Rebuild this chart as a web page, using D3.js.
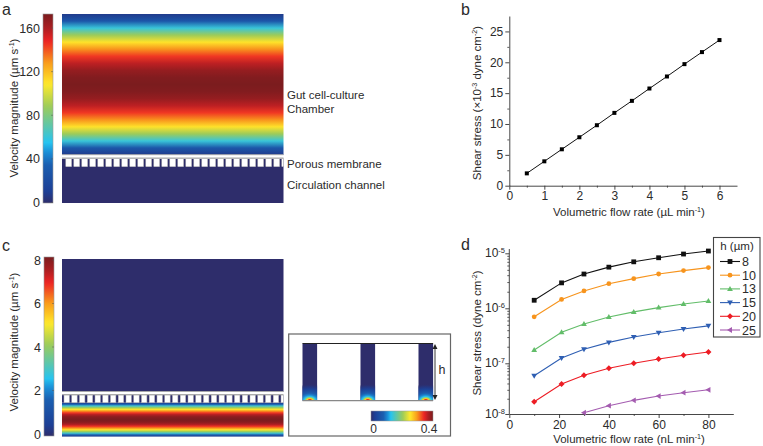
<!DOCTYPE html>
<html><head><meta charset="utf-8">
<script src="https://cdn.jsdelivr.net/npm/d3@7/dist/d3.min.js"></script>
<style>
html,body{margin:0;padding:0;background:#fff}
svg{display:block}
text{font-family:"Liberation Sans",Arial,sans-serif;fill:#2b2b2b}
</style></head><body>
<script>
// ---------- data ----------
const rampStops = [0,.06,.2,.27,.32,.41,.51,.63,.74,.855,.93,1];
const rampColors = ["#2e2d6b","#1d3f95","#1b5eb0","#1b8fd8","#27c4f0","#5fc6a8","#9ccb5a","#ffe92b","#f99d1c","#ee2424","#a81e22","#7b1c1e"];
const profileFrac = [0,.05,.1,.15,.2,.25,.3,.35,.4,.45,.5,.55,.6,.65,.7,.75,.8,.85,.9,.95,1];
const gutProfile = [8,28,60,88,110,129,144,156,165,170,172,170,165,156,144,129,110,88,60,28,8];
const circProfile = [.4,1.5,2.9,4.1,5.1,6,6.7,7.3,7.7,7.9,8,7.9,7.7,7.3,6.7,6,5.1,4.1,2.9,1.5,.4];
const cbarATicks = [0,40,80,120,160];
const cbarCTicks = [0,2,4,6,8];
const insetTicks = [0,0.4];
const flowB = [.5,1,1.5,2,2.5,3,3.5,4,4.5,5,5.5,6];
const shearB = [2,3.95,5.9,7.85,9.8,11.8,13.75,15.75,17.7,19.7,21.65,23.6];
const flowD = [10,21,30,40,50,60,70,80];
const heights = ["8","10","13","15","20","25"];
const s8  = [1.4e-6,2.9e-6,4.2e-6,5.6e-6,7e-6,8.3e-6,9.7e-6,1.1e-5];
const s10 = [7e-7,1.45e-6,2.07e-6,2.8e-6,3.46e-6,4.2e-6,4.85e-6,5.5e-6];
const s13 = [1.75e-7,3.66e-7,5.2e-7,6.95e-7,8.6e-7,1.03e-6,1.2e-6,1.36e-6];
const s15 = [5.7e-8,1.25e-7,1.8e-7,2.4e-7,3e-7,3.6e-7,4.2e-7,4.8e-7];
const s20 = [1.75e-8,3.9e-8,5.8e-8,8e-8,1e-7,1.2e-7,1.4e-7,1.6e-7];
const s25 = [null,null,1.06e-8,1.46e-8,1.86e-8,2.26e-8,2.63e-8,3e-8];
const colorsD = ["#111111","#f7941d","#62bd69","#2f5fb3","#ed1c24","#a45cb0"];
const shapesD = ["square","circle","up","down","diamond","left"];
const insetProfile = [.4,.34,.27,.22,.13,.1,.08,.06,.04,.02,.008,0];
const insetFrac = [0,.07,.12,.16,.24,.34,.44,.52,.62,.74,.86,1];

// ---------- helpers ----------
const ramp = d3.scaleLinear().domain(rampStops).range(rampColors).interpolate(d3.interpolateRgb).clamp(true);
const svg = d3.select("body").append("svg").attr("width",763).attr("height",446);
const defs = svg.append("defs");
const axisCol = "#333";

function grad(id, fracs, vals, vmax, horizontal){
  const g = defs.append("linearGradient").attr("id",id)
    .attr("x1",0).attr("y1",0).attr("x2",horizontal?1:0).attr("y2",horizontal?0:1);
  fracs.forEach((f,i)=>g.append("stop").attr("offset",f).attr("stop-color",ramp(vals[i]/vmax)));
}
const barFrac = d3.range(0,1.0001,.02);
grad("barV",barFrac,barFrac.map(f=>1-f),1,false);
grad("barH",barFrac,barFrac,1,true);
grad("gut",profileFrac,gutProfile,172,false);
grad("circ",profileFrac,circProfile,8,false);

const rg = defs.append("radialGradient").attr("id","glow").attr("cx",.5).attr("cy",1).attr("r",1).attr("fx",.5).attr("fy",1);
insetFrac.forEach((f,i)=>rg.append("stop").attr("offset",f).attr("stop-color",ramp(insetProfile[i]/.4)).attr("stop-opacity",i==insetFrac.length-1?0:1));

function label(x,y,parts,opts={}){
  const t = svg.append("text").attr("text-anchor",opts.anchor||"middle").attr("font-size",opts.size||11.5);
  if(opts.rotate) t.attr("transform",`translate(${x},${y}) rotate(-90)`); else t.attr("x",x).attr("y",y);
  parts.forEach(p=>{
    const s=t.append("tspan").text(p.t);
    if(p.sup) s.attr("font-size",(opts.size||11.5)*.62).attr("dy",-4);
    else if(p.after) s.attr("dy",4);
  });
  return t;
}
function colorbar(x0,x1,y0,y1,yv0,yvTop,vTop,ticks){
  svg.append("rect").attr("x",x0).attr("y",y0).attr("width",x1-x0).attr("height",y1-y0).attr("fill","url(#barV)").attr("stroke","#999").attr("stroke-width",.6);
  const sc = d3.scaleLinear().domain([0,vTop]).range([yv0,yvTop]);
  const g = svg.append("g").attr("transform",`translate(${x0},0)`).call(d3.axisLeft(sc).tickValues(ticks).tickSize(0).tickPadding(3));
  g.select(".domain").remove();
  g.selectAll("text").attr("font-size",12.5).style("font-family","Liberation Sans").style("fill","#2b2b2b");
  svg.append("g").attr("transform",`translate(${x1},0)`).selectAll("line").data(ticks).join("line")
    .attr("x1",-2).attr("x2",0).attr("y1",d=>sc(d)).attr("y2",d=>sc(d)).attr("stroke","#555").attr("stroke-width",.5);
}
function membrane(g,x0,x1,stripTop,poreTop,poreBot,fillGap,first,period,w){
  g.append("rect").attr("x",x0).attr("y",poreTop).attr("width",x1-x0).attr("height",poreBot-poreTop).attr("fill",fillGap);
  const n = Math.floor((x1-x0-first)/period);
  g.selectAll(".sq").data(d3.range(n+1)).join("rect").attr("class","sq")
    .attr("x",d=>x0+first+d*period).attr("y",poreTop).attr("width",d=>Math.max(0,Math.min(w,x1-(x0+first+d*period)))).attr("height",poreBot-poreTop)
    .attr("fill","#fff").attr("stroke","#b5b5b5").attr("stroke-width",.5);
  g.append("rect").attr("x",x0).attr("y",stripTop).attr("width",x1-x0).attr("height",poreTop-stripTop).attr("fill","#fff");
  g.append("line").attr("x1",x0).attr("x2",x1).attr("y1",stripTop).attr("y2",stripTop).attr("stroke","#aaa").attr("stroke-width",.9);
  g.append("line").attr("x1",x0).attr("x2",x1).attr("y1",poreTop-.3).attr("y2",poreTop-.3).attr("stroke","#aaa").attr("stroke-width",1.2);
}
const navy = rampColors[0];

// ---------- panel letters ----------
[["a",2,14.5],["b",461,14.5],["c",2,251],["d",461,250]].forEach(d=>label(d[1],d[2],[{t:d[0]}],{anchor:"start",size:16}));

// ---------- panel a ----------
colorbar(43,53,14,203,202.5,28,160,cbarATicks);
label(18,108,[{t:"Velocity magnitude (µm s"},{t:"-1",sup:1},{t:")",after:1}],{rotate:1});
const ga = svg.append("g");
ga.append("rect").attr("x",62).attr("y",14).attr("width",221.5).attr("height",141).attr("fill","url(#gut)");
ga.append("rect").attr("x",62).attr("y",166).attr("width",221.5).attr("height",37).attr("fill",navy);
membrane(ga,62,283.5,154.7,158.5,166.7,navy,3.8,8,5.8);
label(287,99,[{t:"Gut cell-culture"}],{anchor:"start",size:11.5});
label(287,113,[{t:"Chamber"}],{anchor:"start",size:11.5});
label(287,168,[{t:"Porous membrane"}],{anchor:"start",size:11.5});
label(287,189,[{t:"Circulation channel"}],{anchor:"start",size:11.5});

// ---------- panel c ----------
colorbar(44,54,257,436,434,260,8,cbarCTicks);
label(18,342,[{t:"Velocity magnitude (µm s"},{t:"-1",sup:1},{t:")",after:1}],{rotate:1});
const gc = svg.append("g");
gc.append("rect").attr("x",62).attr("y",259).attr("width",221.5).attr("height",133).attr("fill",navy);
gc.append("rect").attr("x",62).attr("y",402.6).attr("width",221.5).attr("height",34).attr("fill","url(#circ)");
membrane(gc,62,283.5,391.5,395,402.6,navy,2,7.75,5.4);

// ---------- inset ----------
svg.append("rect").attr("x",288.7).attr("y",334).attr("width",161.8).attr("height",102).attr("fill","#fff").attr("stroke","#666").attr("stroke-width",1.2);
const colX = [302.5,360.5,418.5], colW = 14.6, iy0 = 343.5, iy1 = 400.7;
colX.forEach((x,i)=>{
  const clip = defs.append("clipPath").attr("id","col"+i);
  clip.append("rect").attr("x",x).attr("y",iy0).attr("width",colW).attr("height",iy1-iy0);
  svg.append("rect").attr("x",x).attr("y",iy0).attr("width",colW).attr("height",iy1-iy0).attr("fill",navy);
  svg.append("rect").attr("x",x+colW/2-12).attr("y",iy1-17).attr("width",24).attr("height",17).attr("fill","url(#glow)").attr("clip-path",`url(#col${i})`);
});
svg.append("line").attr("x1",302.5).attr("x2",433.1).attr("y1",iy0).attr("y2",iy0).attr("stroke","#222").attr("stroke-width",1);
svg.append("line").attr("x1",302.5).attr("x2",433.1).attr("y1",iy1).attr("y2",iy1).attr("stroke","#888").attr("stroke-width",1.3);
svg.append("line").attr("x1",435).attr("x2",435).attr("y1",347).attr("y2",397).attr("stroke","#222").attr("stroke-width",.9);
svg.append("path").attr("d","M435 344l-2.5 5h5zM435 400l-2.5 -5h5z").attr("fill","#222");
label(442,374,[{t:"h"}],{anchor:"middle",size:12.5});
svg.append("rect").attr("x",371).attr("y",411).attr("width",62).attr("height",10).attr("fill","url(#barH)").attr("stroke","#999").attr("stroke-width",.5);
const sInset = d3.scaleLinear().domain(insetTicks).range([373.5,429]);
insetTicks.forEach(v=>label(sInset(v),433,[{t:String(v)}],{size:12}));

// ---------- panel b ----------
const xb = d3.scaleLinear().domain([0,6.5]).range([509.3,737]);
const yb = d3.scaleLinear().domain([0,27.5]).range([185.7,16]);
function styleAxis(g){
  g.selectAll("path,line").attr("stroke",axisCol).attr("stroke-width",.9);
  g.selectAll("text").attr("font-size",12).style("font-family","Liberation Sans").style("fill","#2b2b2b");
}
function minor(axisFn,scale,vals,size,transform){
  const g=svg.append("g").attr("transform",transform).call(axisFn(scale).tickValues(vals).tickSize(size).tickFormat(""));
  g.select(".domain").remove();
  g.selectAll("line").attr("stroke",axisCol).attr("stroke-width",.8);
}
minor(d3.axisBottom,xb,d3.range(.5,6.5,1),2,"translate(0,185.7)");
minor(d3.axisLeft,yb,d3.range(2.5,27.5,5),2,"translate(509.3,0)");
svg.append("g").attr("transform","translate(0,185.7)").call(d3.axisBottom(xb).tickValues(d3.range(0,7)).tickFormat(d3.format("d")).tickSize(4).tickSizeOuter(0).tickPadding(2)).call(styleAxis);
svg.append("g").attr("transform","translate(509.3,0)").call(d3.axisLeft(yb).tickValues(d3.range(0,30,5)).tickFormat(d3.format("d")).tickSize(4).tickSizeOuter(0).tickPadding(2)).call(styleAxis);
const ptsB = flowB.map((x,i)=>[x,shearB[i]]);
svg.append("path").attr("d",d3.line().x(d=>xb(d[0])).y(d=>yb(d[1]))(ptsB)).attr("fill","none").attr("stroke","#111").attr("stroke-width",1);
svg.selectAll(".pb").data(ptsB).join("rect").attr("x",d=>xb(d[0])-2).attr("y",d=>yb(d[1])-2).attr("width",4).attr("height",4).attr("fill","#000");
label(481,103,[{t:"Shear stress (×10"},{t:"-3",sup:1},{t:" dyne cm",after:1},{t:"-2",sup:1},{t:")",after:1}],{rotate:1,size:11.5});
label(629,216,[{t:"Volumetric flow rate (µL min"},{t:"-1",sup:1},{t:")",after:1}],{size:11.5});

// ---------- panel d ----------
const xd = d3.scaleLinear().domain([0,90]).range([509.3,733.3]);
const yd = d3.scaleLog().domain([1e-8,1e-7,1e-6,1e-5]).range([414,363.3,308.3,253.3]).clamp(false);
const yTop = 249;
const seriesD = [s8,s10,s13,s15,s20,s25];
function marker(sel,shape,col){
  const r=2.4;
  const paths={square:`M${-r} ${-r}H${r}V${r}H${-r}Z`,up:`M0 ${-r-.6}L${r+.5} ${r-.4}H${-r-.5}Z`,down:`M0 ${r+.6}L${r+.5} ${-r+.4}H${-r-.5}Z`,
    diamond:`M0 ${-r-.6}L${r+.6} 0L0 ${r+.6}L${-r-.6} 0Z`,left:`M${-r-.6} 0L${r-.4} ${-r-.5}V${r+.5}Z`};
  if(shape==="circle") sel.append("circle").attr("r",r).attr("fill",col);
  else sel.append("path").attr("d",paths[shape]).attr("fill",col);
}
svg.append("line").attr("x1",509.3).attr("x2",509.3).attr("y1",yTop).attr("y2",414).attr("stroke",axisCol).attr("stroke-width",.9);
minor(d3.axisBottom,xd,d3.range(10,90,20),2,"translate(0,414)");
svg.append("g").attr("transform","translate(0,414)").call(d3.axisBottom(xd).tickValues(d3.range(0,100,20)).tickFormat(d3.format("d")).tickSize(4).tickSizeOuter(0).tickPadding(2)).call(styleAxis);
const decades=[-8,-7,-6,-5];
const yMinor = decades.slice(0,3).flatMap(e=>[2,3,4,5,6,7,8,9].map(m=>m*Math.pow(10,e)));
minor(d3.axisLeft,yd,yMinor,2,"translate(509.3,0)");
const yMaj = svg.append("g").attr("transform","translate(509.3,0)").call(d3.axisLeft(yd).tickValues(decades.map(e=>Math.pow(10,e))).tickSize(4).tickSizeOuter(0).tickFormat(""));
yMaj.select(".domain").remove();
yMaj.selectAll("line").attr("stroke",axisCol).attr("stroke-width",.9);
decades.forEach(e=>{
  const t=svg.append("text").attr("x",505).attr("y",yd(Math.pow(10,e))+4).attr("text-anchor","end").attr("font-size",12);
  t.append("tspan").text("10");
  t.append("tspan").text("-"+Math.abs(e)).attr("font-size",7.5).attr("dy",-4);
});
seriesD.forEach((vals,k)=>{
  const pts = flowD.map((x,i)=>[x,vals[i]]).filter(d=>d[1]!==null);
  svg.append("path").attr("d",d3.line().x(d=>xd(d[0])).y(d=>yd(d[1]))(pts)).attr("fill","none").attr("stroke",colorsD[k]).attr("stroke-width",1.1);
  pts.forEach(d=>{ marker(svg.append("g").attr("transform",`translate(${xd(d[0])},${yd(d[1])})`),shapesD[k],colorsD[k]); });
});
label(481,333,[{t:"Shear stress (dyne cm"},{t:"-2",sup:1},{t:")",after:1}],{rotate:1,size:11.5});
label(629,443,[{t:"Volumetric flow rate (nL min"},{t:"-1",sup:1},{t:")",after:1}],{size:11.5});

// legend
svg.append("rect").attr("x",713.5).attr("y",237.5).attr("width",46.5).attr("height",99.5).attr("fill","#fff").attr("stroke","#444").attr("stroke-width",1.1);
label(737,250,[{t:"h (µm)"}],{size:11.5});
const ly = d3.scalePoint().domain(heights).range([261.5,330]);
heights.forEach((h,k)=>{
  svg.append("line").attr("x1",720).attr("x2",740).attr("y1",ly(h)).attr("y2",ly(h)).attr("stroke",colorsD[k]).attr("stroke-width",1.1);
  marker(svg.append("g").attr("transform",`translate(730,${ly(h)})`),shapesD[k],colorsD[k]);
  label(742,ly(h)+4.5,[{t:h}],{anchor:"start",size:12.5});
});
</script>
</body></html>
